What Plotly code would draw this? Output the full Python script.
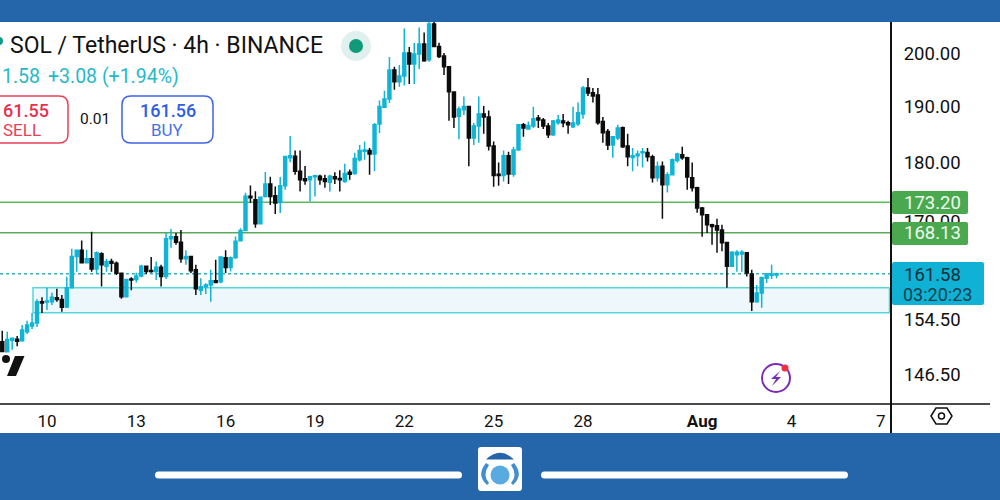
import math
import pandas as pd
import plotly.graph_objects as go

# 4h candles
dates = pd.date_range("2024-07-08 12:00", periods=157, freq="4h")

opens = [
    151.25, 149.8, 151.5, 151.65, 151.4, 152.75, 153.6, 154.05, 157.25, 157.2,
    157.25, 157.85, 157.6, 156.45, 159.4, 164.3, 165.3, 163.3, 163.95, 162.35,
    164.75, 162.75, 163.5, 163.25, 161.65, 158.0, 160.75, 160.7, 161.25, 162.75,
    162.1, 161.95, 162.6, 161.15, 167.15, 167.5, 166.6, 163.95, 164.3, 162.2,
    159.0, 159.55, 159.85, 160.5, 160.35, 164.1, 162.55, 164.1, 166.85, 168.5,
    174.2, 173.6, 169.6, 174.15, 176.3, 174.3, 173.15, 176.0, 180.85, 181.1,
    178.5, 177.2, 177.0, 177.55, 177.6, 177.2, 176.6, 177.55, 177.25, 176.7,
    178.3, 178.1, 180.5, 182.0, 182.1, 181.5, 186.85, 189.9, 191.45, 196.9,
    194.7, 195.75, 200.2, 198.05, 200.0, 201.95, 198.9, 205.9, 201.45, 199.6,
    197.55, 192.75, 188.25, 189.45, 190.05, 184.35, 186.5, 188.7, 188.15, 182.9,
    177.95, 177.75, 181.2, 177.95, 182.2, 186.7, 185.95, 186.5, 187.95, 187.6,
    186.5, 184.9, 187.1, 187.4, 187.1, 186.35, 186.9, 188.7, 193.5, 192.6,
    192.2, 187.3, 185.5, 183.1, 184.35, 186.2, 182.9, 180.9, 181.2, 181.7,
    181.75, 181.0, 177.35, 179.35, 176.15, 177.9, 180.35, 181.35, 180.85, 177.35,
    175.65, 172.25, 171.1, 169.45, 169.3, 168.6, 166.55, 162.75, 164.6, 164.7,
    164.9, 161.55, 157.25, 158.6, 160.9, 161.35, 161.4,
]
highs = [
    152.9, 152.75, 151.9, 152.1, 153.75, 154.4, 155.55, 157.65, 157.95, 159.4,
    158.65, 159.25, 158.3, 161.1, 165.55, 165.4, 166.9, 165.4, 168.3, 165.1,
    165.0, 163.95, 163.95, 163.5, 161.75, 160.8, 161.05, 161.75, 163.0, 162.85,
    164.25, 163.5, 163.0, 168.1, 168.75, 168.1, 168.6, 165.3, 164.3, 163.0,
    160.9, 160.1, 162.2, 163.8, 164.3, 165.3, 164.3, 167.55, 168.9, 174.8,
    176.05, 175.05, 174.15, 178.35, 177.55, 175.85, 177.5, 181.2, 184.7, 182.1,
    182.1, 179.4, 177.7, 177.9, 177.9, 177.9, 177.9, 178.3, 178.65, 179.8,
    178.8, 181.7, 183.1, 183.7, 182.55, 187.05, 191.15, 193.0, 199.4, 197.55,
    197.85, 205.0, 201.35, 202.15, 205.2, 204.2, 207.0, 207.0, 202.2, 200.2,
    197.55, 192.75, 190.05, 191.9, 190.15, 187.05, 191.9, 190.15, 189.3, 183.7,
    180.0, 182.1, 181.9, 182.8, 186.85, 187.05, 187.3, 190.0, 188.5, 187.95,
    187.05, 187.6, 188.5, 188.7, 187.45, 190.0, 190.8, 193.9, 195.4, 193.5,
    193.5, 188.15, 185.95, 184.7, 186.7, 186.4, 185.1, 182.55, 182.1, 182.55,
    182.55, 181.35, 180.2, 180.2, 178.3, 180.7, 181.7, 182.8, 181.0, 180.0,
    175.8, 172.4, 171.2, 169.6, 170.45, 169.45, 166.7, 165.15, 165.3, 165.3,
    165.0, 162.2, 159.85, 161.1, 161.7, 163.0, 161.75,
]
lows = [
    149.85, 149.8, 150.1, 150.6, 151.25, 152.4, 153.15, 153.45, 155.55, 156.0,
    156.75, 157.25, 155.75, 156.3, 159.4, 161.9, 163.3, 163.3, 161.9, 161.55,
    159.6, 161.9, 161.9, 161.4, 157.7, 157.95, 159.0, 160.2, 161.05, 161.55,
    161.75, 160.6, 159.6, 160.75, 165.7, 166.2, 163.3, 163.0, 161.7, 158.3,
    158.3, 158.45, 157.25, 160.15, 160.1, 161.7, 161.95, 163.95, 166.75, 168.45,
    173.1, 168.95, 169.6, 174.0, 172.75, 171.25, 171.4, 175.3, 180.05, 177.9,
    175.0, 176.15, 173.3, 174.15, 176.15, 175.65, 175.0, 176.3, 175.0, 176.5,
    177.0, 177.9, 180.2, 180.5, 177.9, 178.5, 185.25, 189.8, 190.7, 193.15,
    193.75, 193.95, 194.25, 194.25, 197.1, 198.5, 198.5, 201.35, 199.2, 195.95,
    187.45, 186.15, 184.1, 188.5, 179.35, 183.1, 183.5, 185.1, 182.1, 175.8,
    176.0, 176.7, 176.3, 177.55, 182.2, 184.55, 185.8, 186.15, 186.15, 185.95,
    184.35, 184.7, 186.7, 186.25, 185.1, 186.15, 186.5, 187.8, 192.0, 190.8,
    186.7, 183.5, 182.2, 180.85, 184.0, 182.55, 179.35, 178.5, 179.35, 179.15,
    180.2, 176.55, 176.7, 170.45, 174.85, 177.9, 180.0, 180.5, 175.3, 175.0,
    171.45, 167.5, 168.1, 166.2, 164.9, 165.15, 159.4, 162.7, 161.9, 161.9,
    161.15, 155.85, 157.1, 156.35, 160.15, 160.75, 160.9,
]
closes = [
    149.85, 151.6, 151.8, 151.35, 153.0, 153.75, 154.05, 157.25, 157.05, 157.35,
    157.95, 157.6, 156.4, 159.4, 164.3, 165.3, 163.3, 163.95, 162.35, 164.9,
    163.0, 163.5, 163.25, 161.65, 158.0, 160.7, 160.6, 161.25, 162.75, 161.95,
    161.95, 162.6, 161.15, 167.15, 167.5, 166.6, 163.95, 164.3, 162.05, 159.25,
    159.55, 159.85, 160.5, 160.2, 164.25, 162.55, 164.1, 166.75, 168.5, 174.2,
    173.95, 169.6, 174.05, 176.3, 174.15, 173.05, 176.0, 181.05, 181.2, 178.5,
    177.0, 176.85, 177.55, 177.7, 177.0, 176.7, 177.6, 177.2, 177.0, 178.1,
    177.95, 180.7, 182.1, 182.2, 181.5, 186.7, 190.05, 191.45, 196.9, 194.7,
    195.75, 200.2, 198.05, 200.0, 201.95, 198.7, 205.9, 201.45, 199.5, 197.55,
    192.8, 188.15, 189.6, 190.05, 184.35, 186.5, 188.7, 188.15, 182.9, 177.75,
    177.75, 181.2, 178.0, 182.2, 186.7, 186.15, 186.6, 187.8, 187.6, 186.5,
    184.9, 187.4, 187.6, 187.1, 186.7, 187.05, 188.9, 193.5, 192.55, 192.0,
    187.1, 185.3, 183.1, 184.55, 186.15, 182.8, 181.0, 181.2, 181.5, 181.9,
    181.0, 177.35, 179.3, 176.15, 177.9, 180.5, 181.5, 180.85, 177.5, 175.65,
    172.25, 171.1, 169.45, 169.15, 168.6, 166.5, 162.75, 165.0, 165.0, 165.0,
    161.7, 157.25, 158.6, 161.0, 161.55, 161.55, 161.58,
]

x_tick_dates = ["2024-07-10", "2024-07-13", "2024-07-16", "2024-07-19", "2024-07-22",
                "2024-07-25", "2024-07-28", "2024-08-01", "2024-08-04", "2024-08-07"]
x_tick_labels = ["10", "13", "16", "19", "22", "25", "28", "<b>Aug</b>", "4", "7"]
y_tick_values = [200, 190, 180, 170, 154.5, 146.5]
y_tick_labels = ["200.00", "190.00", "180.00", "170.00", "154.50", "146.50"]

level_prices = [173.20, 168.13]
last_price = 161.58
zone_low, zone_high = 155.6, 159.4
zone_start = "2024-07-09 12:45"

BLUE = "#10b4d6"
BAR = "#2565aa"
FONT = "Roboto"

# plot area in page pixels
LEFT, RIGHT, TOP, BOTTOM = 0, 890, 22, 404


def px(x):
    return (x - LEFT) / (RIGHT - LEFT)


def py(y):
    return (BOTTOM - y) / (BOTTOM - TOP)


def rounded(x0, y0, x1, y1, r):
    # rounded box as a path in paper coordinates
    pts = [
        f"M {px(x0 + r)},{py(y0)}", f"L {px(x1 - r)},{py(y0)}",
        f"Q {px(x1)},{py(y0)} {px(x1)},{py(y0 + r)}", f"L {px(x1)},{py(y1 - r)}",
        f"Q {px(x1)},{py(y1)} {px(x1 - r)},{py(y1)}", f"L {px(x0 + r)},{py(y1)}",
        f"Q {px(x0)},{py(y1)} {px(x0)},{py(y1 - r)}", f"L {px(x0)},{py(y0 + r)}",
        f"Q {px(x0)},{py(y0)} {px(x0 + r)},{py(y0)}", "Z",
    ]
    return " ".join(pts)


def poly(points):
    return "M " + " L ".join(f"{px(a)},{py(b)}" for a, b in points) + " Z"


def box(x0, y0, x1, y1, fill, line=None, width=0, r=None):
    spec = dict(xref="paper", yref="paper", fillcolor=fill, layer="above",
                line=dict(color=line or fill, width=width))
    if r:
        fig.add_shape(type="path", path=rounded(x0, y0, x1, y1, r), **spec)
    else:
        fig.add_shape(type="rect", x0=px(x0), x1=px(x1), y0=py(y0), y1=py(y1), **spec)


def circle(cx, cy, r, fill, line=None, width=0):
    fig.add_shape(type="circle", xref="paper", yref="paper", layer="above",
                  x0=px(cx - r), x1=px(cx + r), y0=py(cy + r), y1=py(cy - r),
                  fillcolor=fill, line=dict(color=line or fill, width=width))


def shape_path(d, fill="rgba(0,0,0,0)", line=None, width=0):
    fig.add_shape(type="path", xref="paper", yref="paper", layer="above", path=d,
                  fillcolor=fill, line=dict(color=line or fill, width=width))


def text(x, y, s, size, color, anchor="left", weight=None):
    fig.add_annotation(xref="paper", yref="paper", x=px(x), y=py(y), text=s, showarrow=False,
                       xanchor=anchor, yanchor="middle", borderpad=0, borderwidth=0,
                       font=dict(family=FONT, size=size, color=color, weight=weight))


fig = go.Figure()

fig.add_trace(go.Candlestick(
    x=dates, open=opens, high=highs, low=lows, close=closes,
    increasing=dict(line=dict(color=BLUE, width=1.5), fillcolor=BLUE),
    decreasing=dict(line=dict(color="#0c0c0c", width=1.5), fillcolor="#0c0c0c"),
    whiskerwidth=0, showlegend=False,
))

fig.update_layout(
    width=1000, height=500, autosize=False,
    margin=dict(l=LEFT, r=1000 - RIGHT, t=TOP, b=500 - BOTTOM),
    paper_bgcolor="white", plot_bgcolor="white",
    boxgap=0.15,
    showlegend=False,
    font=dict(family=FONT, color="#111"),
    xaxis=dict(
        type="date", rangeslider=dict(visible=False),
        range=["2024-07-08 10:10", "2024-08-07 07:25"],
        tickmode="array", tickvals=x_tick_dates, ticktext=x_tick_labels,
        tickangle=0, tickfont=dict(size=17, color="#111", family=FONT),
        ticks="outside", ticklen=2, tickcolor="white", showgrid=False, zeroline=False,
    ),
    yaxis=dict(
        type="log", side="right",
        range=[math.log10(142.4), math.log10(206.3)],
        tickmode="array", tickvals=y_tick_values, ticktext=y_tick_labels,
        tickfont=dict(size=18.5, color="#111", family=FONT),
        ticks="outside", ticklen=9, tickcolor="white", showgrid=False, zeroline=False,
    ),
)

# demand zone, levels, last price
fig.add_shape(type="rect", xref="x", yref="y", x0=zone_start, x1="2024-08-07 07:00",
              y0=zone_low, y1=zone_high, layer="below", fillcolor="#eef8fc",
              line=dict(color="#55d8da", width=1.5))
for level, colour in zip(level_prices, ["#58bf58", "#5aa95a"]):
    fig.add_shape(type="line", xref="paper", yref="y", x0=0, x1=1, y0=level, y1=level,
                  layer="below", line=dict(color=colour, width=1.5))
fig.add_shape(type="line", xref="paper", yref="y", x0=0, x1=1, y0=last_price, y1=last_price,
              layer="below", line=dict(color="#2cb4c4", width=1.5, dash="dot"))

# frame bars and axis lines
box(0, 0, 1000, 22, BAR)
box(0, 433, 1000, 500, BAR)
fig.add_shape(type="line", xref="paper", yref="paper", layer="above",
              x0=px(891), x1=px(891), y0=py(22), y1=py(433), line=dict(color="#111", width=2))
fig.add_shape(type="line", xref="paper", yref="paper", layer="above",
              x0=px(0), x1=px(990), y0=py(404), y1=py(404), line=dict(color="#111", width=1.5))

# price labels on the axis
box(892, 191, 968, 214, "#4aa84f", r=2)
box(892, 222, 968, 245, "#4aa84f", r=2)
box(892, 262, 984, 305, "#0fb2d4", r=2)
text(904, 203, "173.20", 18.5, "#eef8ee")
text(904, 233, "168.13", 18.5, "#eef8ee")
text(904, 275, "161.58", 18.5, "#10303a")
text(903, 294, "03:20:23", 18, "#10404e")

# header
circle(-1, 41, 4, "#0f9a86")
text(10, 46, "SOL / TetherUS · 4h · BINANCE", 23, "#111")
circle(356, 46, 15, "#dff0ee")
circle(356, 46, 7, "#0f9a7a")
text(2, 77, "1.58", 19.5, "#25b9c8")
text(48, 77, "+3.08 (+1.94%)", 19.5, "#25b9c8")

box(-20, 96, 68, 143, "white", line="#e8405a", width=1.5, r=9)
text(3, 110, "61.55", 18, "#e8304e", weight=500)
text(3, 130, "SELL", 17, "#e8405a")
text(95, 119, "0.01", 15.5, "#111", anchor="center")
box(122, 96, 213, 143, "white", line="#3e64e2", width=1.5, r=9)
text(168, 110, "161.56", 18, "#2f5fe0", anchor="center", weight=500)
text(167, 130, "BUY", 17, "#4a70e4", anchor="center")

# TradingView mark
circle(6, 359, 4, "#111")
shape_path(poly([(15, 356), (24.5, 356), (16, 376), (7, 376)]), fill="#111")

# lightning badge
circle(776, 378, 14, "white", line="#7b2cb0", width=2)
shape_path(poly([(780, 371), (771, 379), (776, 379), (772, 386), (781, 377), (776, 377)]), fill="#7b2cb0")
circle(785, 368, 3.5, "#f03040")

# settings hexagon
shape_path(poly([(931, 416), (936, 408), (947, 408), (952, 416), (947, 424), (936, 424)]),
           line="#111", width=1.5)
circle(941.5, 416, 3, "white", line="#111", width=1.5)

# bottom bar logo and handles
box(155, 471.5, 462, 478.5, "white", r=3.5)
box(541, 471.5, 848, 478.5, "white", r=3.5)
box(478, 447, 522, 491, "white", r=3)
circle(500, 475, 9.5, "#5aaae2")
shape_path(f"M {px(486)},{py(459.5)} Q {px(500)},{py(446)} {px(514)},{py(459.5)} Z", fill=BAR)
shape_path(f"M {px(486)},{py(463)} Q {px(476)},{py(475)} {px(487)},{py(485)} "
           f"L {px(489)},{py(483)} Q {px(482)},{py(475)} {px(489)},{py(465)} Z", fill="#3f8fd0")
shape_path(f"M {px(514)},{py(463)} Q {px(524)},{py(475)} {px(513)},{py(485)} "
           f"L {px(511)},{py(483)} Q {px(518)},{py(475)} {px(511)},{py(465)} Z", fill="#3f8fd0")

# page margin off so the figure fills the window
fig.write_html("out.html", config=dict(displayModeBar=False),
               post_script="document.body.style.margin='0';")
